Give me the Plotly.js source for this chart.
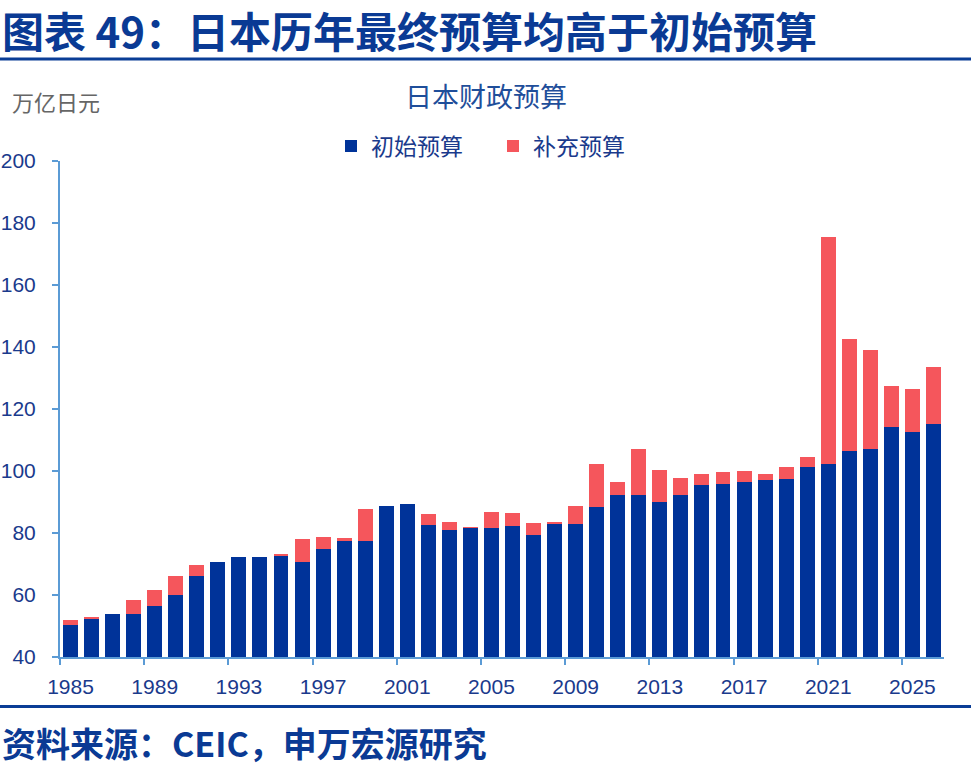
<!DOCTYPE html>
<html>
<head>
<meta charset="utf-8">
<script src="https://cdn.plot.ly/plotly-3.0.1.min.js"></script>
<style>
html,body{margin:0;padding:0;background:#fff;}
#chart{width:971px;height:780px;}
</style>
</head>
<body>
<div id="chart"></div>
<script>
// ---- data (万亿日元) ----
var years = [1985,1986,1987,1988,1989,1990,1991,1992,1993,1994,1995,1996,1997,1998,1999,2000,2001,2002,2003,2004,2005,2006,2007,2008,2009,2010,2011,2012,2013,2014,2015,2016,2017,2018,2019,2020,2021,2022,2023,2024,2025,2026];
var initialBudget = [50.4,52.2,54.0,53.8,56.3,60.1,66.0,70.5,72.1,72.1,72.7,70.6,74.7,77.3,77.5,88.8,89.5,82.5,81.1,81.5,81.7,82.1,79.4,82.9,82.8,88.4,92.2,92.2,90.1,92.2,95.6,95.9,96.4,97.0,97.3,101.2,102.2,106.5,107.1,114.2,112.5,115.1];
var supplementaryBudget = [1.4,0.7,0.0,4.5,5.4,6.0,3.8,0.0,0.0,0.0,0.5,7.4,4.0,1.1,10.2,0.0,0.0,3.5,2.5,0.4,5.1,4.3,3.8,0.7,6.0,14.0,4.3,15.0,10.1,5.7,3.3,3.7,3.5,1.9,4.0,3.3,73.3,36.0,31.8,13.2,13.9,18.4];
var tickYears = [1985,1989,1993,1997,2001,2005,2009,2013,2017,2021,2025];
var yTicks = [40,60,80,100,120,140,160,180,200];
var seriesNames = ['初始预算','补充预算'];
var chartTitle = '日本财政预算';
var unitLabel = '万亿日元';
var figureTitle = '图表 49：日本历年最终预算均高于初始预算';
var sourceNote = '资料来源：CEIC，申万宏源研究';

// ---- layout geometry ----
var W = 971, H = 780;
var L = 60, R = 27, T = 161, B = 123;
var pw = W - L - R, ph = H - T - B;
function px(x){ return (x - L) / pw; }
function py(y){ return (H - B - y) / ph; }

var BLUE = '#003399', RED = '#f5565c', AXIS = '#5b9bd5', TXT = '#1a3a8c';
var CJK = '"Noto Sans CJK SC", "Noto Sans", sans-serif';
var NUM = '"Liberation Sans", Arial, sans-serif';

var traces = [
  {type:'bar', x: years, y: initialBudget, name: seriesNames[0],
   marker:{color: BLUE, line:{width:0}}, legend:'legend', hoverinfo:'x+y'},
  {type:'bar', x: years, y: supplementaryBudget, name: seriesNames[1],
   marker:{color: RED, line:{width:0}}, legend:'legend2', hoverinfo:'x+y'}
];

var boundaries = tickYears.map(function(v){ return v - 0.5; });

var layout = {
  width: W, height: H,
  margin: {l: L, r: R, t: T, b: B, pad: 0},
  paper_bgcolor: '#fff', plot_bgcolor: '#fff',
  barmode: 'stack', bargap: 0.29,
  showlegend: true,
  legend: {orientation:'h', x: px(331), xanchor:'left', y: py(146), yanchor:'middle',
           font:{family: CJK, size: 23, color: TXT}, bgcolor:'rgba(0,0,0,0)', borderwidth:0},
  legend2: {orientation:'h', x: px(493), xanchor:'left', y: py(146), yanchor:'middle',
           font:{family: CJK, size: 23, color: TXT}, bgcolor:'rgba(0,0,0,0)', borderwidth:0},
  xaxis: {
    range: [years[0] - 0.5, years[years.length-1] + 0.5],
    tickmode:'array', tickvals: tickYears, ticktext: tickYears.map(String),
    ticks:'', showgrid:false, zeroline:false,
    showline:true, linecolor: AXIS, linewidth: 2,
    tickfont:{family: NUM, size: 21, color: TXT},
    ticklabelstandoff: 10,
    minor: {tickmode:'array', tickvals: boundaries, ticks:'outside', ticklen:6, tickwidth:2, tickcolor: AXIS, showgrid:false}
  },
  yaxis: {
    range: [40, 200], tickmode:'array', tickvals: yTicks,
    ticks:'outside', ticklen: 6, tickwidth: 2, tickcolor: AXIS,
    showgrid:false, zeroline:false,
    showline:true, linecolor: AXIS, linewidth: 2,
    tickfont:{family: NUM, size: 21, color: TXT},
    ticklabelstandoff: 12
  },
  shapes: [
    {type:'line', xref:'paper', yref:'paper', x0: px(0), x1: px(W), y0: py(59), y1: py(59),
     line:{color:'#0a3d96', width:3}},
    {type:'line', xref:'paper', yref:'paper', x0: px(0), x1: px(W), y0: py(706.5), y1: py(706.5),
     line:{color:'#0a3d96', width:3}}
  ],
  annotations: [
    {text: '<b>' + figureTitle + '</b>', xref:'paper', yref:'paper', x: px(0), y: py(30),
     xanchor:'left', yanchor:'middle', showarrow:false,
     font:{family: CJK, size: 42, color:'#0a3a94'}},
    {text: unitLabel, xref:'paper', yref:'paper', x: px(10), y: py(101),
     xanchor:'left', yanchor:'middle', showarrow:false,
     font:{family: CJK, size: 22, color:'#666666'}},
    {text: chartTitle, xref:'paper', yref:'paper', x: px(486), y: py(95),
     xanchor:'center', yanchor:'middle', showarrow:false,
     font:{family: CJK, size: 27, color:'#1f4e9a'}},
    {text: '<b>' + sourceNote + '</b>', xref:'paper', yref:'paper', x: px(0), y: py(742),
     xanchor:'left', yanchor:'middle', showarrow:false,
     font:{family: CJK, size: 34, color:'#0a3a94'}}
  ]
};

Plotly.newPlot('chart', traces, layout, {displayModeBar:false, staticPlot:true});
</script>
</body>
</html>
